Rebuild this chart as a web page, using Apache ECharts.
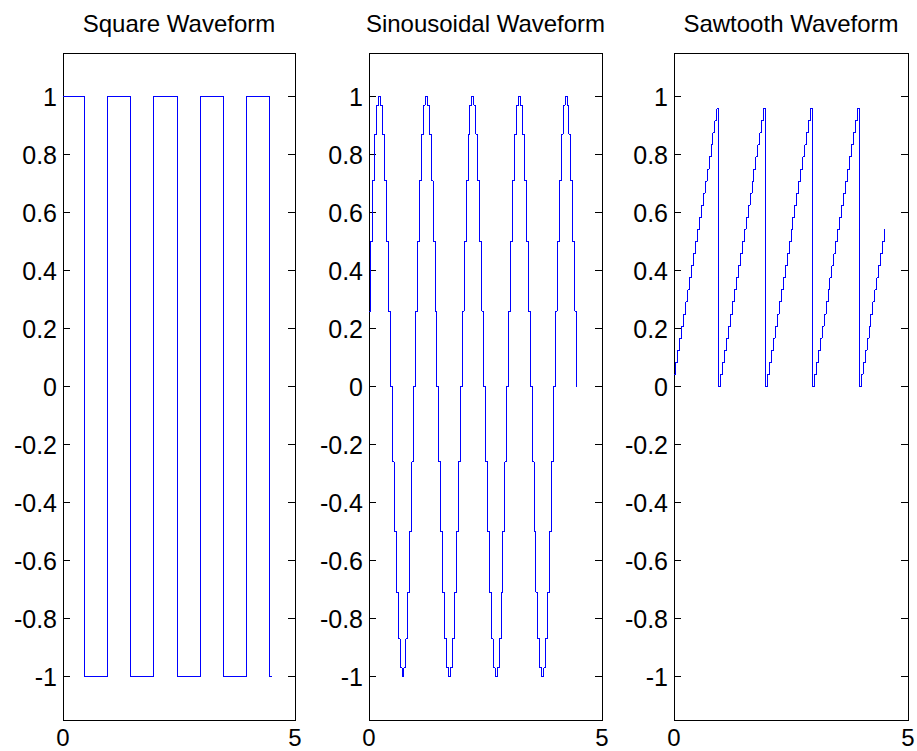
<!DOCTYPE html>
<html>
<head>
<meta charset="utf-8">
<title>Waveforms</title>
<script src="https://cdn.jsdelivr.net/npm/echarts@6/dist/echarts.min.js"></script>
<style>
html, body { margin: 0; padding: 0; background: #fff; }
#chart { width: 917px; height: 751px; }
/* draw the traces without smoothing, like the original plot */
#chart svg path { shape-rendering: crispEdges; }
</style>
</head>
<body>
<div id="chart"></div>
<script>
// sample instants (s), the signals are held between samples
const sampleTimes = [
  0, 0.0417, 0.0833, 0.125, 0.1667, 0.2083, 0.25, 0.2917, 0.3333, 0.375, 0.4167, 0.4583,
  0.5, 0.5417, 0.5833, 0.625, 0.6667, 0.7083, 0.75, 0.7917, 0.8333, 0.875, 0.9167, 0.9583,
  1, 1.0417, 1.0833, 1.125, 1.1667, 1.2083, 1.25, 1.2917, 1.3333, 1.375, 1.4167, 1.4583,
  1.5, 1.5417, 1.5833, 1.625, 1.6667, 1.7083, 1.75, 1.7917, 1.8333, 1.875, 1.9167, 1.9583,
  2, 2.0417, 2.0833, 2.125, 2.1667, 2.2083, 2.25, 2.2917, 2.3333, 2.375, 2.4167, 2.4583,
  2.5, 2.5417, 2.5833, 2.625, 2.6667, 2.7083, 2.75, 2.7917, 2.8333, 2.875, 2.9167, 2.9583,
  3, 3.0417, 3.0833, 3.125, 3.1667, 3.2083, 3.25, 3.2917, 3.3333, 3.375, 3.4167, 3.4583,
  3.5, 3.5417, 3.5833, 3.625, 3.6667, 3.7083, 3.75, 3.7917, 3.8333, 3.875, 3.9167, 3.9583,
  4, 4.0417, 4.0833, 4.125, 4.1667, 4.2083, 4.25, 4.2917, 4.3333, 4.375, 4.4167, 4.4583,
  4.5
]

const squareValues = [
  1, 1, 1, 1, 1, 1, 1, 1, 1, 1, 1, -1, -1, -1, -1, -1, -1, -1, -1, -1, -1, -1, -1, 1,
  1, 1, 1, 1, 1, 1, 1, 1, 1, 1, 1, -1, -1, -1, -1, -1, -1, -1, -1, -1, -1, -1, -1, 1,
  1, 1, 1, 1, 1, 1, 1, 1, 1, 1, 1, -1, -1, -1, -1, -1, -1, -1, -1, -1, -1, -1, -1, 1,
  1, 1, 1, 1, 1, 1, 1, 1, 1, 1, 1, -1, -1, -1, -1, -1, -1, -1, -1, -1, -1, -1, -1, 1,
  1, 1, 1, 1, 1, 1, 1, 1, 1, 1, 1, -1, -1
]

const sineValues = [
  0.26, 0.5, 0.71, 0.87, 0.97, 1, 0.97, 0.87, 0.71, 0.5, 0.26, 0,
  -0.26, -0.5, -0.71, -0.87, -0.97, -1, -0.97, -0.87, -0.71, -0.5, -0.26, 0,
  0.26, 0.5, 0.71, 0.87, 0.97, 1, 0.97, 0.87, 0.71, 0.5, 0.26, 0,
  -0.26, -0.5, -0.71, -0.87, -0.97, -1, -0.97, -0.87, -0.71, -0.5, -0.26, 0,
  0.26, 0.5, 0.71, 0.87, 0.97, 1, 0.97, 0.87, 0.71, 0.5, 0.26, 0,
  -0.26, -0.5, -0.71, -0.87, -0.97, -1, -0.97, -0.87, -0.71, -0.5, -0.26, 0,
  0.26, 0.5, 0.71, 0.87, 0.97, 1, 0.97, 0.87, 0.71, 0.5, 0.26, 0,
  -0.26, -0.5, -0.71, -0.87, -0.97, -1, -0.97, -0.87, -0.71, -0.5, -0.26, 0,
  0.26, 0.5, 0.71, 0.87, 0.97, 1, 0.97, 0.87, 0.71, 0.5, 0.26, 0
]

const sawtoothValues = [
  0.042, 0.083, 0.125, 0.167, 0.208, 0.25, 0.292, 0.333, 0.375, 0.417, 0.458, 0.5,
  0.542, 0.583, 0.625, 0.667, 0.708, 0.75, 0.792, 0.833, 0.875, 0.917, 0.958, 0,
  0.042, 0.083, 0.125, 0.167, 0.208, 0.25, 0.292, 0.333, 0.375, 0.417, 0.458, 0.5,
  0.542, 0.583, 0.625, 0.667, 0.708, 0.75, 0.792, 0.833, 0.875, 0.917, 0.958, 0,
  0.042, 0.083, 0.125, 0.167, 0.208, 0.25, 0.292, 0.333, 0.375, 0.417, 0.458, 0.5,
  0.542, 0.583, 0.625, 0.667, 0.708, 0.75, 0.792, 0.833, 0.875, 0.917, 0.958, 0,
  0.042, 0.083, 0.125, 0.167, 0.208, 0.25, 0.292, 0.333, 0.375, 0.417, 0.458, 0.5,
  0.542, 0.583, 0.625, 0.667, 0.708, 0.75, 0.792, 0.833, 0.875, 0.917, 0.958, 0,
  0.042, 0.083, 0.125, 0.167, 0.208, 0.25, 0.292, 0.333, 0.375, 0.417, 0.458, 0.5,
  0.542
]

const panelTitles = ['Square Waveform', 'Sinousoidal Waveform', 'Sawtooth Waveform']
const panelValues = [squareValues, sineValues, sawtoothValues]
const xTickValues = [0, 5]
const yTickValues = [-1, -0.8, -0.6, -0.4, -0.2, 0, 0.2, 0.4, 0.6, 0.8, 1]

// pixel layout of the three subplots
const panelLeft = [63, 369, 674]
const panelWidth = [232, 233, 234]
const panelTop = 53
const panelHeight = 667

const fontFamily = '"Liberation Sans", Arial, Helvetica, sans-serif'
const black = '#000'

// zero-order hold: each sample value is kept until the next sample time
function holdPoints (values) {
  const pts = []
  values.forEach((v, k) => {
    pts.push([sampleTimes[k], v])
    if (k < values.length - 1) pts.push([sampleTimes[k + 1], v])
  })
  return pts
}

const chart = echarts.init(document.getElementById('chart'), null, { renderer: 'svg' })

const grid = []
const xAxis = []
const yAxis = []
const title = []
const series = []

panelTitles.forEach((name, i) => {
  grid.push({
    left: panelLeft[i],
    top: panelTop,
    width: panelWidth[i],
    height: panelHeight,
    show: true,
    borderColor: black,
    borderWidth: 1,
    containLabel: false,
    outerBoundsMode: 'none'
  })
  title.push({
    text: name,
    left: panelLeft[i] + panelWidth[i] / 2,
    top: 11,
    padding: 0,
    textAlign: 'center',
    textStyle: { fontSize: 24, fontWeight: 'normal', color: black, fontFamily }
  })
  xAxis.push({
    gridIndex: i,
    type: 'value',
    min: 0,
    max: 5,
    axisLine: { show: true, onZero: false, lineStyle: { color: black, width: 1 } },
    axisTick: { show: true, inside: true, length: 7, customValues: xTickValues, lineStyle: { color: black } },
    axisLabel: {
      customValues: xTickValues,
      showMinLabel: true,
      showMaxLabel: true,
      margin: 5,
      fontSize: 24,
      color: black,
      fontFamily
    },
    splitLine: { show: false }
  })
  // left axis with labels
  yAxis.push({
    gridIndex: i,
    type: 'value',
    position: 'left',
    min: -1.15,
    max: 1.15,
    axisLine: { show: true, onZero: false, lineStyle: { color: black, width: 1 } },
    axisTick: { show: true, inside: true, length: 7, customValues: yTickValues, lineStyle: { color: black } },
    axisLabel: {
      customValues: yTickValues,
      showMinLabel: true,
      showMaxLabel: true,
      margin: 6,
      fontSize: 25,
      color: black,
      fontFamily,
      formatter: v => Number(v.toFixed(1)).toString()
    },
    splitLine: { show: false }
  })
  // right axis, ticks only
  yAxis.push({
    gridIndex: i,
    type: 'value',
    position: 'right',
    min: -1.15,
    max: 1.15,
    axisLine: { show: true, onZero: false, lineStyle: { color: black, width: 1 } },
    axisTick: { show: true, inside: true, length: 7, customValues: yTickValues, lineStyle: { color: black } },
    axisLabel: { show: false },
    splitLine: { show: false }
  })
  series.push({
    type: 'line',
    xAxisIndex: i,
    yAxisIndex: i * 2,
    showSymbol: false,
    lineStyle: { color: '#0000ff', width: 1 },
    data: holdPoints(panelValues[i])
  })
})

chart.setOption({
  animation: false,
  backgroundColor: '#fff',
  title,
  grid,
  xAxis,
  yAxis,
  series
})
</script>
</body>
</html>
